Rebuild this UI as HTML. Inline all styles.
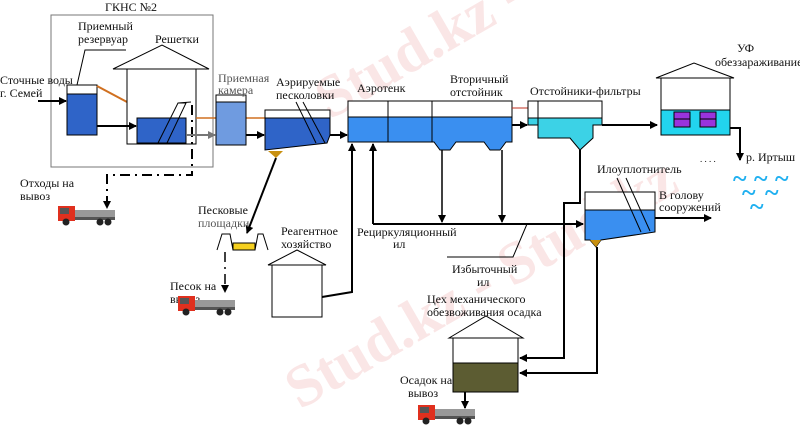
<!DOCTYPE html>
<html><head><meta charset="utf-8"><style>
html,body{margin:0;padding:0;background:#fff}
svg{display:block}
text{font-family:"Liberation Serif","Noto Serif CJK SC",serif;font-size:12px;fill:#111}
.wm{fill:#fae6e6;font-size:60px;font-weight:bold}
.wv{fill:#20b0f0;font-size:26px;font-weight:bold}
</style></head><body>
<svg width="800" height="425" viewBox="0 0 800 425" xmlns="http://www.w3.org/2000/svg">
<defs>
<marker id="a" markerWidth="8" markerHeight="8" refX="7" refY="4" orient="auto" markerUnits="userSpaceOnUse"><path d="M0,0 L8,4 L0,8 z" fill="#000"/></marker>
<marker id="g" markerWidth="8" markerHeight="8" refX="7" refY="4" orient="auto" markerUnits="userSpaceOnUse"><path d="M0,0 L8,4 L0,8 z" fill="#777"/></marker>
<g id="truck">
<rect x="0" y="3" width="17" height="15" fill="#e0301e"/>
<rect x="2" y="5" width="9" height="6" fill="#555"/>
<rect x="17" y="7" width="40" height="7" fill="#999"/>
<rect x="17" y="14" width="40" height="3" fill="#555"/>
<circle cx="8" cy="19" r="3.5" fill="#222"/><circle cx="42" cy="19" r="3.5" fill="#222"/><circle cx="50" cy="19" r="3.5" fill="#222"/>
</g>
</defs>
<text x="330" y="120" transform="rotate(-30 330 120)" class="wm">Stud.kz - Stud</text>
<text x="300" y="410" transform="rotate(-30 300 410)" class="wm">Stud.kz - Stud.kz</text>
<!-- ГКНС -->
<rect x="51" y="15" width="162" height="152" fill="none" stroke="#777" stroke-width="1"/>
<text x="105" y="11">ГКНС №2</text>
<text x="78" y="30">Приемный</text><text x="78" y="43">резервуар</text>
<path d="M77,85 L85,50 L126,50" fill="none" stroke="#000"/>
<rect x="67" y="85" width="30" height="50" fill="#2f64c8" stroke="#000"/>
<rect x="67" y="85" width="30" height="9" fill="#fff" stroke="#000"/>
<line x1="97" y1="86" x2="127" y2="102" stroke="#d07020" stroke-width="2"/>
<text x="0" y="84">Сточные воды</text><text x="0" y="97">г. Семей</text>
<line x1="38" y1="101" x2="66" y2="101" stroke="#000" stroke-width="2" marker-end="url(#a)"/>
<path d="M113,69 L162,45 L209,69 Z" fill="#fff" stroke="#000"/>
<rect x="127" y="69" width="69" height="75" fill="#fff" stroke="#000"/>
<text x="155" y="43">Решетки</text>
<rect x="137" y="118" width="49" height="25" fill="#2f64c8" stroke="#000"/>
<path d="M158,143 L178,103 L186,103 L167,143 M178,103 L191,102" fill="none" stroke="#000"/>
<line x1="97" y1="126" x2="136" y2="126" stroke="#000" stroke-width="2" marker-end="url(#a)"/>
<path d="M192,105 L192,175 L107,175 L107,208" fill="none" stroke="#000" stroke-width="2" stroke-dasharray="10,5,2,5" marker-end="url(#a)"/>
<text x="20" y="187">Отходы на</text><text x="20" y="200">вывоз</text>
<use href="#truck" x="58" y="203"/>
<!-- приемная камера -->
<line x1="196" y1="118" x2="330" y2="118" stroke="#d07020" stroke-width="1.5"/>
<line x1="186" y1="135" x2="215" y2="135" stroke="#777" stroke-width="2" marker-end="url(#g)"/>
<rect x="216" y="95" width="30" height="50" fill="#6f9be0" stroke="#000"/>
<rect x="216" y="95" width="30" height="7" fill="#fff" stroke="#000"/>
<text x="218" y="82" style="fill:#555">Приемная</text><text x="218" y="94" style="fill:#555">камера</text>
<line x1="246" y1="135" x2="264" y2="135" stroke="#000" stroke-width="2" marker-end="url(#a)"/>
<!-- песколовки -->
<path d="M265,110 L330,110 L330,135 L327,143 L265,150 Z" fill="#2f64c8" stroke="#000"/>
<rect x="265" y="110" width="65" height="8" fill="#fff" stroke="#000"/>
<path d="M268,151 L283,151 L276,158 Z" fill="#c89010"/>
<path d="M296,102 L316,143 M303,102 L325,143" stroke="#000"/>
<text x="276" y="86">Аэрируемые</text><text x="276" y="99">песколовки</text>
<line x1="330" y1="135" x2="347" y2="135" stroke="#000" stroke-width="2" marker-end="url(#a)"/>
<line x1="276" y1="158" x2="247" y2="233" stroke="#000" stroke-width="2" marker-end="url(#a)"/>
<!-- sand -->
<text x="198" y="214">Песковые</text><text x="198" y="227" style="fill:#555">площадки</text>
<path d="M217,250 L222,234 L230,234 L233,250 L255,250 L258,234 L263,234 L268,250" fill="none" stroke="#000"/>
<rect x="233" y="243" width="22" height="7" fill="#f5d020" stroke="#000"/>
<path d="M225,252 L225,292" stroke="#000" stroke-width="1.5" stroke-dasharray="10,5,2,5" marker-end="url(#a)"/>
<text x="170" y="290">Песок на</text><text x="170" y="303">вывоз</text>
<use href="#truck" x="178" y="293"/>
<!-- reagent -->
<text x="281" y="235">Реагентное</text><text x="281" y="248">хозяйство</text>
<path d="M268,265 L297,250 L326,265 Z" fill="#fff" stroke="#000"/>
<rect x="272" y="265" width="50" height="52" fill="#fff" stroke="#000"/>
<path d="M322,297 L352,292 L352,144" fill="none" stroke="#000" stroke-width="2" marker-end="url(#a)"/>
<!-- аэротенк -->
<rect x="348" y="101" width="164" height="41" fill="#fff" stroke="#000"/>
<path d="M348,117 L512,117 L512,142 L506,142 L500,150 L490,150 L484,142 L456,142 L450,150 L440,150 L434,142 L348,142 Z" fill="#3a8ff0" stroke="#000"/>
<line x1="388" y1="101" x2="388" y2="142" stroke="#000"/><line x1="432" y1="101" x2="432" y2="142" stroke="#000"/>
<text x="357" y="92">Аэротенк</text>
<text x="450" y="83">Вторичный</text><text x="450" y="96">отстойник</text>
<line x1="512" y1="108" x2="528" y2="108" stroke="#c03020"/>
<line x1="512" y1="125" x2="527" y2="125" stroke="#000" stroke-width="2" marker-end="url(#a)"/>
<!-- отстойники-фильтры -->
<rect x="528" y="101" width="74" height="17" fill="#fff" stroke="#000"/>
<path d="M528,118 L602,118 L602,125 L593,125 L593,138 L580,150 L570,138 L538,138 L538,125 L528,125 Z" fill="#3cd2e6" stroke="#000"/>
<line x1="538" y1="101" x2="538" y2="138" stroke="#000"/>
<text x="530" y="95">Отстойники-фильтры</text>
<line x1="602" y1="125" x2="657" y2="125" stroke="#000" stroke-width="2" marker-end="url(#a)"/>
<!-- УФ -->
<path d="M656,78 L694,63 L734,78 Z" fill="#fff" stroke="#000"/>
<rect x="661" y="78" width="69" height="57" fill="#fff" stroke="#000"/>
<rect x="661" y="110" width="69" height="25" fill="#22d4ee" stroke="#000"/>
<rect x="674" y="112" width="16" height="15" fill="#9933dd" stroke="#000"/>
<line x1="674" y1="119" x2="690" y2="119" stroke="#000"/>
<rect x="700" y="112" width="16" height="15" fill="#9933dd" stroke="#000"/>
<line x1="700" y1="119" x2="716" y2="119" stroke="#000"/>
<text x="737" y="52">УФ</text><text x="715" y="66">обеззараживание</text>
<path d="M730,128 L740,128 L740,160" fill="none" stroke="#000" stroke-width="2" marker-end="url(#a)"/>
<text x="746" y="161">р. Иртыш</text>
<text x="700" y="162" style="font-size:9px">.  .  .  .</text>
<text x="733" y="187" class="wv">~</text><text x="754" y="187" class="wv">~</text><text x="775" y="187" class="wv">~</text>
<text x="742" y="201" class="wv">~</text><text x="765" y="201" class="wv">~</text>
<text x="750" y="215" class="wv">~</text>
<!-- recirc -->
<line x1="373" y1="224" x2="373" y2="144" stroke="#000" stroke-width="2" marker-end="url(#a)"/>
<line x1="373" y1="224" x2="583" y2="224" stroke="#000" stroke-width="2" marker-end="url(#a)"/>
<line x1="442" y1="150" x2="442" y2="222" stroke="#000" stroke-width="1.5" marker-end="url(#a)"/>
<line x1="502" y1="150" x2="502" y2="222" stroke="#000" stroke-width="1.5" marker-end="url(#a)"/>
<text x="357" y="236">Рециркуляционный</text><text x="393" y="248">ил</text>
<path d="M527,224 L513,257 L447,257" fill="none" stroke="#000"/>
<text x="452" y="273">Избыточный</text><text x="477" y="286">ил</text>
<!-- илоуплотнитель -->
<rect x="585" y="192" width="70" height="18" fill="#fff" stroke="#000"/>
<path d="M585,210 L655,210 L655,232 L601,240 L596,247 L590,240 L585,240 Z" fill="#3a8ff0" stroke="#000"/>
<path d="M590,240 L601,240 L596,247 Z" fill="#c89010"/>
<path d="M617,178 L641,232 M626,178 L650,231" stroke="#000"/>
<text x="597" y="173">Илоуплотнитель</text>
<text x="659" y="199">В голову</text><text x="659" y="211">сооружений</text>
<line x1="655" y1="218" x2="711" y2="218" stroke="#000" stroke-width="2" marker-end="url(#a)"/>
<!-- цех -->
<text x="427" y="303">Цех механического</text><text x="427" y="316">обезвоживания осадка</text>
<path d="M449,338 L486,316 L523,338 Z" fill="#fff" stroke="#000"/>
<rect x="453" y="338" width="65" height="54" fill="#fff" stroke="#000"/>
<rect x="453" y="363" width="65" height="29" fill="#5c5c32" stroke="#000"/>
<path d="M580,150 L580,203 L564,203 L564,358 L520,358" fill="none" stroke="#000" stroke-width="2" marker-end="url(#a)"/>
<path d="M597,247 L597,373 L520,373" fill="none" stroke="#000" stroke-width="2" marker-end="url(#a)"/>
<text x="400" y="384">Осадок на</text><text x="408" y="397">вывоз</text>
<line x1="465" y1="392" x2="465" y2="408" stroke="#000" stroke-width="2" marker-end="url(#a)"/>
<use href="#truck" x="418" y="402"/>
</svg>
</body></html>
